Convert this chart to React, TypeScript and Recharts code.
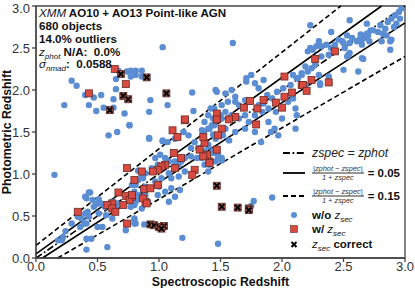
import React from 'react';
import { ScatterChart, Scatter, XAxis, YAxis, ReferenceLine, ReferenceArea } from 'recharts';

// ---------- data ----------
const axisTicks = [0, 0.5, 1, 1.5, 2, 2.5, 3];
const axisTickLabels = ['0.0', '0.5', '1.0', '1.5', '2.0', '2.5', '3.0'];

// [zspec, zphot] – sources without secondary solution (blue dots)
const woZsec: [number, number][] = [
  [1.03,2.51],[0.29,2.11],[0.33,2.05],[0.23,1.82],[0.40,1.94],[0.47,1.91],[0.53,1.94],[0.43,1.82],[0.49,1.75],[0.55,1.79],
  [0.63,1.79],[0.63,1.89],[0.65,2.01],[0.65,2.13],[0.67,2.23],[0.72,1.72],[0.76,1.58],[0.66,1.50],[0.59,1.46],[0.74,2.22],
  [0.77,2.16],[0.81,2.23],[0.81,2.18],[0.86,2.23],[0.86,2.16],[0.77,2.23],[0.93,1.88],[0.92,1.74],[1.07,1.82],[1.27,1.97],
  [0.92,1.43],[1.03,1.39],[1.36,1.50],[1.28,1.75],
  [1.92,0.72],[1.77,0.68],[1.75,0.62],[1.48,0.17],
  [0.15,0.99],[1.19,0.24],[0.58,0.13],[0.73,0.33],[0.80,0.45],[0.80,0.41],[0.88,0.40],[0.41,0.23],[0.45,0.23],[0.22,0.25],[0.18,0.21],
  [0.43,0.78],[0.40,0.73],[0.41,0.71],[0.46,0.69],[0.51,0.70],[0.49,0.64],[0.53,0.65],[0.47,0.61],[0.40,0.53],[0.37,0.47],
  [0.43,0.49],[0.41,0.41],[0.51,0.53],[0.56,0.61],[0.58,0.64],[0.62,0.67],[0.65,0.59],[0.66,0.65],[0.57,0.51],[0.62,0.47],
  [0.77,0.61],[0.81,0.67],[0.83,0.75],[0.87,0.81],[0.89,0.85],[0.81,0.87],[0.87,0.95],[0.83,1.04],[0.80,0.47],[0.81,0.41],
  [0.54,0.37],[0.50,0.37],[0.21,0.21],[0.24,0.32],[0.29,0.41],[0.34,0.49],[0.39,0.41],[0.36,0.37],[0.42,0.55],[0.44,0.78],[0.41,0.10],
  [0.76,1.58],[0.92,1.42],[1.03,1.40],[1.07,1.38],[1.13,1.42],[1.24,1.46],[1.20,1.50],[1.35,1.52],[1.37,1.62],[1.41,1.54],
  [1.45,1.58],[1.29,1.38],[1.26,1.31],[1.32,1.31],[1.37,1.27],[1.40,1.33],[1.44,1.27],[1.48,1.23],[1.51,1.19],[1.46,1.15],
  [1.41,1.11],[1.40,1.03],[1.37,1.11],[1.35,1.19],[1.31,1.19],[1.26,1.21],[1.21,1.19],[1.18,1.15],[1.16,1.11],[1.13,1.15],
  [1.08,1.15],[1.05,1.19],[1.01,1.23],[0.97,1.19],[0.99,1.11],[0.94,1.07],[0.89,1.01],[0.86,0.97],[0.83,0.93],[0.78,0.87],
  [0.80,0.79],[0.75,0.75],[0.83,0.71],[0.89,0.75],[0.91,0.83],[0.97,0.91],[1.00,0.85],[1.02,0.95],[1.08,1.01],[1.10,0.95],
  [1.16,0.97],[1.21,1.03],[1.05,0.79],[1.10,0.83],[0.99,0.75],[0.91,0.67],[0.86,0.59],[0.80,0.63],[1.08,0.67],[1.13,0.73],
  [1.17,0.81],[1.51,1.66],[1.44,1.47],
  [1.47,1.98],[1.54,1.96],[1.59,2.00],[1.62,1.92],[1.71,2.14],[1.75,2.18],[1.78,2.08],[1.81,2.02],[1.85,2.12],[1.88,1.94],
  [1.92,1.90],[1.96,1.98],[2.01,2.02],[2.05,1.86],[2.09,1.90],[2.12,2.14],[2.16,2.20],[2.11,1.78],[2.12,1.70],[2.11,1.54],
  [2.00,1.66],[1.95,1.74],[1.89,1.78],[1.85,1.84],[1.81,1.82],[1.74,1.86],[1.70,1.88],[1.65,1.82],[1.62,1.86],[1.56,1.86],
  [1.51,1.82],[1.45,1.78],[1.42,1.78],[1.40,1.70],[1.44,1.66],[1.50,1.70],[1.54,1.74],[1.59,1.70],[1.65,1.66],[1.70,1.70],
  [1.73,1.62],[1.78,1.70],[1.84,1.74],[1.89,1.62],[1.94,1.54],[1.97,1.46],[1.91,1.50],[1.83,1.38],[1.78,1.50],[1.70,1.54],
  [1.62,1.50],[1.54,1.54],[1.43,1.58],[1.40,1.54],[1.46,1.42],[1.52,1.46],[1.40,1.35],[1.44,1.27],[1.48,1.19],[1.40,1.22],
  [1.57,1.40],[1.44,1.25],[1.51,1.16],
  [2.97,2.97],[2.95,2.93],[2.92,2.89],[2.96,2.85],[2.89,2.85],[2.86,2.81],[2.93,2.79],[2.91,2.75],[2.84,2.73],[2.85,2.65],
  [2.80,2.77],[2.78,2.69],[2.74,2.71],[2.70,2.65],[2.67,2.62],[2.64,2.66],[2.71,2.58],[2.65,2.60],[2.61,2.58],[2.57,2.62],
  [2.55,2.83],[2.53,2.65],[2.49,2.58],[2.46,2.60],[2.43,2.54],[2.40,2.50],[2.36,2.54],[2.32,2.52],[2.28,2.52],[2.25,2.48],
  [2.23,2.50],[2.21,2.46],[2.30,2.58],[2.23,2.77],[2.51,2.50],[2.54,2.42],[2.65,2.38],[2.62,2.22],[2.38,2.42],[2.32,2.40],
  [2.27,2.30],[2.24,2.26],[2.19,2.28],[2.21,2.22],[2.16,2.18],[2.13,2.14],[2.30,2.18],[2.31,2.06],[2.38,2.16],[2.53,2.40],
  [2.88,2.58],[2.88,2.48],[2.09,2.18],[2.07,2.06],[2.19,2.06],
  [1.60,2.56],[2.40,2.69],[2.66,2.37],[2.50,2.24],[1.71,2.10],[1.46,2.00],[2.31,2.08],
  [2.82,2.67],[2.89,2.60],[2.72,2.71],[2.69,2.67],[2.66,2.63],[2.63,2.60],[2.65,2.54],[2.55,2.56],[2.50,2.56],[2.69,2.79],
  [2.81,2.58],[2.55,2.44],
];

// [zspec, zphot] – sources with secondary solution (red squares)
const wZsec: [number, number][] = [
  [0.64,2.25],[0.73,2.07],[0.43,1.96],[1.21,1.64],[1.11,1.52],[1.15,1.44],
  [0.74,1.07],[0.80,0.93],[0.86,1.03],[0.67,0.78],[0.73,0.74],[0.78,0.73],[0.76,0.69],[0.62,0.65],[0.58,0.63],[0.62,0.59],
  [0.71,0.63],[0.645,0.55],[0.88,0.82],[0.89,0.67],[0.34,0.55],[0.74,0.41],
  [1.21,1.65],[1.47,1.65],[1.51,1.54],[1.37,1.37],[1.47,1.29],[1.33,1.29],[1.12,1.25],[1.18,1.19],[1.05,1.11],[1.02,1.09],
  [0.99,1.05],[0.95,1.03],[1.13,1.07],[1.29,1.05],[1.27,0.99],[1.41,1.15],[0.99,0.87],[0.93,0.83],[0.87,0.71],[0.78,0.75],[0.90,0.65],
  [2.02,2.16],[2.16,2.06],[1.85,1.88],[1.74,1.87],[1.80,1.78],[1.69,1.79],[1.95,1.85],[2.02,1.92],[2.00,1.79],[1.62,1.68],
  [1.57,1.65],[1.47,1.72],[1.47,1.65],[1.79,1.59],[1.48,1.46],[1.39,1.23],
  [2.27,2.37],[2.43,2.46],[2.17,2.06],[2.24,2.12],[2.38,2.09],[2.08,1.97],[2.20,1.99],
  [1.41,1.13],[1.36,1.21],[1.36,1.44],
];

// [zspec, zphot] – outliers where the secondary solution is correct (crosses)
const zsecCorrect: [number, number][] = [
  [0.69,2.19],[0.90,2.15],[0.71,1.93],[0.75,1.89],[1.06,1.96],[0.60,1.76],
  [1.47,0.86],[1.51,0.61],[1.64,0.60],[1.73,0.59],[1.73,0.57],
  [0.93,0.40],[0.96,0.39],[1.00,0.37],[1.04,0.38],[1.02,0.35],
];

// reference relations: zphot = slope * zspec + intercept
const relations = [
  { slope: 1, intercept: 0, style: 'dashdot' },
  { slope: 1.05, intercept: 0.05, style: 'solid' },
  { slope: 0.95, intercept: -0.05, style: 'solid' },
  { slope: 1.15, intercept: 0.15, style: 'dashed' },
  { slope: 0.85, intercept: -0.15, style: 'dashed' },
];

// ---------- styling ----------
const FONT = '"Liberation Sans", Arial, Helvetica, sans-serif';
const BLUE = '#5b8dd3';
const RED = '#d94a40';
const DASHES: Record<string, string | undefined> = {
  dashdot: '7 2.5 1.8 2.5',
  solid: undefined,
  dashed: '5 3',
};

const toPts = (arr: [number, number][]) => arr.map(([x, y]) => ({ x, y }));

const BlueDot = (p: any) => <circle cx={p.cx} cy={p.cy} r={3.2} fill={BLUE} />;
const RedSquare = (p: any) => (
  <rect x={p.cx - 3.5} y={p.cy - 3.5} width={7} height={7} fill={RED} stroke="#6a2b27" strokeWidth={0.8} />
);
const CrossMark = (p: any) => (
  <g>
    <rect x={p.cx - 3.5} y={p.cy - 3.5} width={7} height={7} fill="#b4615a" stroke="#5a2a27" strokeWidth={0.8} />
    <path
      d={`M${p.cx - 2.6},${p.cy - 2.6}L${p.cx + 2.6},${p.cy + 2.6}M${p.cx - 2.6},${p.cy + 2.6}L${p.cx + 2.6},${p.cy - 2.6}`}
      stroke="#000"
      strokeWidth={2}
    />
  </g>
);

const fmtTick = (v: number) => axisTickLabels[axisTicks.indexOf(v)] ?? String(v);

const Frac = () => (
  <span style={{ display: 'inline-flex', flexDirection: 'column', alignItems: 'center', fontStyle: 'italic', fontSize: 7.4, color: '#333', lineHeight: '8px', fontWeight: 400 }}>
    <span style={{ borderBottom: '0.8px solid #333', padding: '0 1px' }}>|zphot − zspec|</span>
    <span>1 + zspec</span>
  </span>
);

const LineSample = ({ dash }: { dash?: string }) => (
  <svg width={22} height={4} style={{ display: 'block' }}>
    <line x1={0} y1={2} x2={22} y2={2} stroke="#000" strokeWidth={1.8} strokeDasharray={dash} />
  </svg>
);

export default function App() {
  const blue = toPts(woZsec);
  const red = toPts(wZsec);
  const cross = toPts(zsecCorrect);

  const segs = relations.map((r) => {
    const x0 = Math.max(0, (0 - r.intercept) / r.slope);
    const x1 = Math.min(3, (3 - r.intercept) / r.slope);
    return { ...r, p: [{ x: x0, y: r.slope * x0 + r.intercept }, { x: x1, y: r.slope * x1 + r.intercept }] };
  });

  const row = (y: number): React.CSSProperties => ({ position: 'absolute', top: y, transform: 'translateY(-50%)', whiteSpace: 'nowrap', lineHeight: '13px' });
  const ann: React.CSSProperties = { position: 'absolute', left: 39, whiteSpace: 'nowrap', fontWeight: 700, fontSize: 11.6, color: '#111', transform: 'translateY(-50%)', lineHeight: '12px' };
  const sub: React.CSSProperties = { fontSize: 8, verticalAlign: '-3px', lineHeight: 0 };

  return (
    <div style={{ position: 'absolute', left: 0, top: 0, width: 415, height: 288, background: '#fff', fontFamily: FONT, overflow: 'hidden' }}>
      <ScatterChart width={415} height={288} margin={{ top: 6, right: 10, bottom: 0, left: 0 }}>
        <XAxis
          type="number"
          dataKey="x"
          domain={[0, 3]}
          ticks={axisTicks}
          tickFormatter={fmtTick}
          height={30}
          tickSize={4}
          tickMargin={0}
          stroke="#444"
          strokeWidth={1.3}
          tick={{ fontSize: 13, fill: '#333', fontFamily: FONT }}
          allowDataOverflow
        />
        <YAxis
          type="number"
          dataKey="y"
          domain={[0, 3]}
          ticks={axisTicks}
          tickFormatter={fmtTick}
          width={36}
          tickSize={4}
          stroke="#444"
          strokeWidth={1.3}
          tick={{ fontSize: 13, fill: '#333', fontFamily: FONT }}
          allowDataOverflow
        />
        <ReferenceArea x1={0} x2={3} y1={0} y2={3} fill="none" stroke="#444" strokeWidth={1.3} ifOverflow="visible" />
        <Scatter data={blue} shape={BlueDot} isAnimationActive={false} />
        <Scatter data={red} shape={RedSquare} isAnimationActive={false} />
        <Scatter data={cross} shape={CrossMark} isAnimationActive={false} />
        {segs.map((s, i) => (
          <ReferenceLine
            key={i}
            segment={s.p}
            stroke="#000"
            strokeWidth={1.6}
            strokeDasharray={DASHES[s.style]}
            ifOverflow="visible"
          />
        ))}
      </ScatterChart>

      {/* annotation block */}
      <div style={{ ...ann, top: 13 }}>
        <span style={{ fontStyle: 'italic', fontWeight: 400 }}>XMM</span> AO10 + AO13 Point-like AGN
      </div>
      <div style={{ ...ann, top: 26 }}>680 objects</div>
      <div style={{ ...ann, top: 39 }}>14.0% outliers</div>
      <div style={{ ...ann, top: 51.5 }}>
        <span style={{ fontStyle: 'italic', fontWeight: 400 }}>z<sub style={sub}>phot</sub></span> N/A:&nbsp; 0.0%
      </div>
      <div style={{ ...ann, top: 64 }}>
        <span style={{ fontStyle: 'italic', fontWeight: 400 }}>σ<sub style={sub}>nmad</sub></span>:&nbsp; 0.0588
      </div>

      {/* legend */}
      <div style={{ ...row(153), left: 283 }}><LineSample dash={DASHES.dashdot} /></div>
      <div style={{ ...row(153), left: 312, fontStyle: 'italic', fontSize: 12.3, color: '#222' }}>zspec = zphot</div>

      <div style={{ ...row(172.5), left: 283 }}><LineSample /></div>
      <div style={{ ...row(172.5), left: 312, display: 'flex', alignItems: 'center', fontWeight: 700, fontSize: 11.5, color: '#111' }}>
        <Frac /><span style={{ marginLeft: 4 }}>= 0.05</span>
      </div>

      <div style={{ ...row(195.5), left: 283 }}><LineSample dash={DASHES.dashed} /></div>
      <div style={{ ...row(195.5), left: 312, display: 'flex', alignItems: 'center', fontWeight: 700, fontSize: 11.5, color: '#111' }}>
        <Frac /><span style={{ marginLeft: 4 }}>= 0.15</span>
      </div>

      <svg style={{ position: 'absolute', left: 288, top: 208 }} width={14} height={44}>
        <circle cx={6} cy={7} r={3} fill={BLUE} />
        <rect x={2.5} y={17.5} width={7} height={7} fill={RED} stroke="#6a2b27" strokeWidth={0.6} />
        <path d="M3.5,34L8.5,39M3.5,39L8.5,34" stroke="#000" strokeWidth={2} />
      </svg>
      <div style={{ ...row(214.5), left: 312, fontWeight: 700, fontSize: 11.5, color: '#111' }}>
        w/o <span style={{ fontStyle: 'italic', fontWeight: 400 }}>z<sub style={sub}>sec</sub></span>
      </div>
      <div style={{ ...row(229), left: 312, fontWeight: 700, fontSize: 11.5, color: '#111' }}>
        w/ <span style={{ fontStyle: 'italic', fontWeight: 400 }}>z<sub style={sub}>sec</sub></span>
      </div>
      <div style={{ ...row(244), left: 312, fontWeight: 700, fontSize: 11.5, color: '#111' }}>
        <span style={{ fontStyle: 'italic', fontWeight: 400 }}>z<sub style={sub}>sec</sub></span> correct
      </div>

      {/* axis titles */}
      <div style={{ position: 'absolute', left: 220.5, top: 281.5, transform: 'translate(-50%,-50%)', fontWeight: 700, fontSize: 12.3, lineHeight: '12px', color: '#111', whiteSpace: 'nowrap' }}>
        Spectroscopic Redshift
      </div>
      <div style={{ position: 'absolute', left: 6.5, top: 132, transform: 'translate(-50%,-50%) rotate(-90deg)', fontWeight: 700, fontSize: 12.3, lineHeight: '12px', color: '#111', whiteSpace: 'nowrap' }}>
        Photometric Redshift
      </div>
    </div>
  );
}
